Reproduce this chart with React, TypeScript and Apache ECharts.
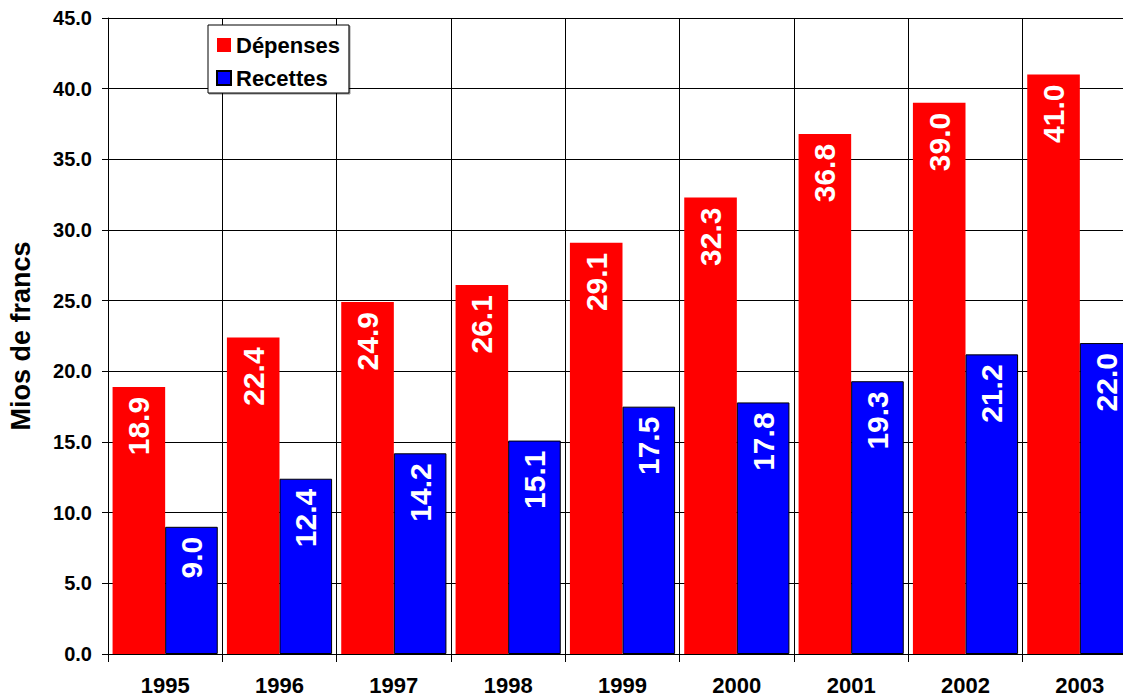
import React, { useEffect, useRef } from "react";
import * as echarts from "echarts";

const years = ["1995", "1996", "1997", "1998", "1999", "2000", "2001", "2002", "2003"];
const depenses = [18.9, 22.4, 24.9, 26.1, 29.1, 32.3, 36.8, 39.0, 41.0];
const recettes = [9.0, 12.4, 14.2, 15.1, 17.5, 17.8, 19.3, 21.2, 22.0];

const FONT = '"Liberation Sans", Arial, Helvetica, sans-serif';

export default function App() {
  const ref = useRef<HTMLDivElement>(null);
  useEffect(() => {
    if (!ref.current) return;
    const chart = echarts.init(ref.current, undefined, { renderer: "svg" });
    const barLabel = {
      show: true,
      position: "insideTop",
      rotate: 90,
      align: "right",
      verticalAlign: "middle",
      distance: 10,
      color: "#fff",
      fontSize: 30,
      fontWeight: "bold",
      fontFamily: FONT,
      formatter: (p: any) => Number(p.value).toFixed(1),
    };
    chart.setOption({
      animation: false,
      backgroundColor: "#fff",
      textStyle: { fontFamily: FONT },
      grid: { left: 108, right: -14, top: 18, bottom: 43, containLabel: false, outerBoundsMode: "none" },
      legend: {
        orient: "vertical",
        left: 208,
        top: 25,
        padding: [9, 9, 4, 8],
        itemWidth: 14,
        itemHeight: 14,
        itemGap: 11,
        backgroundColor: "#fff",
        borderColor: "#000",
        borderWidth: 1,
        shadowColor: "rgba(0,0,0,0.45)",
        shadowOffsetX: 1,
        shadowOffsetY: 1,
        textStyle: { fontSize: 22, fontWeight: "bold", color: "#000", fontFamily: FONT },
        data: [
          { name: "Dépenses", icon: "rect" },
          { name: "Recettes", icon: "rect" },
        ],
      },
      xAxis: {
        type: "category",
        data: years,
        axisLine: { show: true, lineStyle: { color: "#000", width: 1 } },
        axisTick: { show: true, length: 8, lineStyle: { color: "#000" } },
        splitLine: { show: true, interval: 0, lineStyle: { color: "#000", width: 1 } },
        axisLabel: { color: "#000", fontWeight: "bold", fontSize: 22, margin: 20, interval: 0, fontFamily: FONT },
      },
      yAxis: {
        type: "value",
        min: 0,
        max: 45,
        interval: 5,
        name: "Mios de francs",
        nameLocation: "middle",
        nameGap: 74,
        nameTextStyle: { fontSize: 27, fontWeight: "bold", color: "#000", fontFamily: FONT },
        axisLine: { show: true, lineStyle: { color: "#000", width: 1 } },
        axisTick: { show: true, length: 6, lineStyle: { color: "#000" } },
        axisLabel: {
          formatter: (v: number) => v.toFixed(1),
          fontSize: 20,
          fontWeight: "bold",
          color: "#000",
          margin: 16,
          fontFamily: FONT,
        },
        splitLine: { show: true, lineStyle: { color: "#000", width: 1 } },
      },
      series: [
        {
          type: "bar",
          name: "Dépenses",
          data: depenses,
          barGap: "0%",
          barCategoryGap: "8%",
          itemStyle: { color: "#ff0000" },
          label: barLabel,
        },
        {
          type: "bar",
          name: "Recettes",
          data: recettes,
          barGap: "0%",
          barCategoryGap: "8%",
          itemStyle: { color: "#0000ff", borderColor: "#000", borderWidth: 1 },
          label: barLabel,
        },
      ],
    });
    return () => chart.dispose();
  }, []);
  return (
    <div
      ref={ref}
      style={{ position: "fixed", left: 0, top: 0, width: 1123, height: 697, background: "#fff" }}
    />
  );
}
